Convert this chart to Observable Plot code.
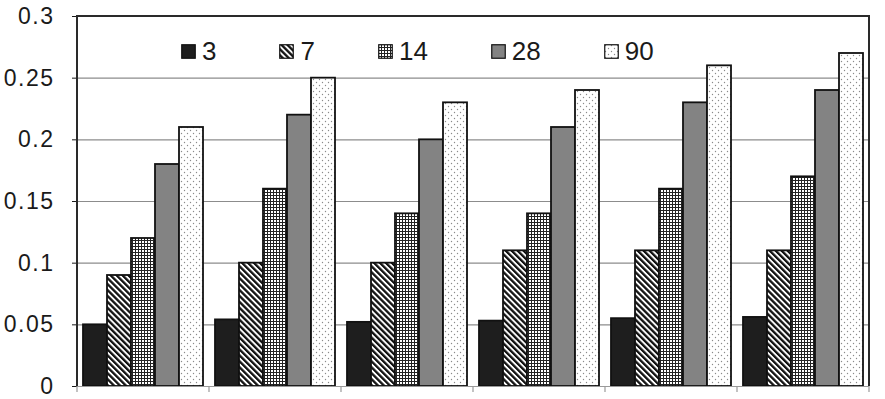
<!DOCTYPE html>
<html>
<head>
<meta charset="utf-8">
<script src="https://cdn.jsdelivr.net/npm/d3@7"></script>
<script src="https://cdn.jsdelivr.net/npm/@observablehq/plot@0.6"></script>
<style>
  html, body { margin: 0; padding: 0; background: #fff; }
  #wrap { position: relative; width: 885px; height: 399px; font-family: "Liberation Sans", Arial, sans-serif; }
  #legend { position: absolute; left: 181px; top: 38px; display: flex; gap: 63px; align-items: center; color: #1a1a1a; font-size: 26px; }
  #legend .item { display: flex; align-items: center; gap: 6px; }
  #legend svg { display: block; }
  #legend span { line-height: 1; }
  g[aria-label="y-axis tick"] { stroke: #9a9a9a; }
  g[aria-label="y-axis tick label"] { letter-spacing: 1.5px; }
</style>
</head>
<body>
<svg width="0" height="0" style="position:absolute">
  <defs>
    <pattern id="p7" patternUnits="userSpaceOnUse" width="4.2" height="4.2" patternTransform="rotate(-45)">
      <rect width="4.2" height="4.2" fill="#fff"></rect>
      <rect width="2.3" height="4.2" fill="#111"></rect>
    </pattern>
    <pattern id="p14" patternUnits="userSpaceOnUse" width="3" height="3">
      <rect width="3" height="3" fill="#fff"></rect>
      <rect width="1" height="3" fill="#222"></rect>
      <rect width="3" height="1" fill="#222"></rect>
    </pattern>
    <pattern id="p90" patternUnits="userSpaceOnUse" width="6" height="6">
      <rect width="6" height="6" fill="#fff"></rect>
      <circle cx="1.5" cy="1.5" r="0.7" fill="#8a8a8a"></circle>
      <circle cx="4.5" cy="4.5" r="0.7" fill="#8a8a8a"></circle>
    </pattern>
  </defs>
</svg>
<div id="wrap">
  <div id="chart"></div>
  <div id="legend"></div>
</div>
<script>
// ---- data ----
const groups = ["1", "2", "3", "4", "5", "6"];
const series = ["3", "7", "14", "28", "90"];
const values3  = [0.050, 0.054, 0.052, 0.053, 0.055, 0.056];
const values7  = [0.090, 0.100, 0.100, 0.110, 0.110, 0.110];
const values14 = [0.120, 0.160, 0.140, 0.140, 0.160, 0.170];
const values28 = [0.180, 0.220, 0.200, 0.210, 0.230, 0.240];
const values90 = [0.210, 0.250, 0.230, 0.240, 0.260, 0.270];
const yTicks = [0, 0.05, 0.1, 0.15, 0.2, 0.25, 0.3];
const fills = ["#1e1e1e", "url(#p7)", "url(#p14)", "#838383", "url(#p90)"];

const seriesValues = [values3, values7, values14, values28, values90];
const data = groups.flatMap((g, i) =>
  series.map((s, j) => ({group: g, series: s, value: seriesValues[j][i]}))
);

const plot = Plot.plot({
  width: 885,
  height: 399,
  marginLeft: 77,
  marginRight: 16,
  marginTop: 16,
  marginBottom: 13,
  style: {fontFamily: "'Liberation Sans', Arial, sans-serif", fontSize: "23px", color: "#1a1a1a", background: "#fff"},
  fx: {domain: groups, padding: 0, axis: null, label: null},
  x: {domain: series, paddingInner: 0, paddingOuter: 0.2, axis: null, label: null},
  y: {domain: [0, 0.3], ticks: yTicks, tickFormat: d3.format("~g"), tickSize: 5, tickPadding: 18, label: null},
  color: {type: "ordinal", domain: series, range: fills},
  marks: [
    Plot.gridY(yTicks, {stroke: "#8c8c8c", strokeOpacity: 1, strokeWidth: 1.2}),
    Plot.barY(data, {fx: "group", x: "series", y: "value", fill: "series", stroke: "#111", strokeWidth: 1.8}),
    Plot.ruleY([0], {stroke: "#9a9a9a", strokeWidth: 1.2})
  ]
});
document.getElementById("chart").appendChild(plot);

// frame and group-boundary ticks, from the plot's own scales
const fx = plot.scale("fx");
const ys = plot.scale("y");
const [x0, x1] = fx.range;
const yBottom = ys.apply(0), yTop = ys.apply(0.3);
const svg = d3.select(plot);
const g = svg.append("g");
g.append("path")
  .attr("d", `M${x0},${yBottom}V${yTop}H${x1}V${yBottom}`)
  .attr("fill", "none").attr("stroke", "#2a2a2a").attr("stroke-width", 2);
const bounds = groups.map(d => fx.apply(d)).concat([x1]);
g.selectAll("line.b").data(bounds).join("line")
  .attr("x1", d => d).attr("x2", d => d)
  .attr("y1", yBottom).attr("y2", yBottom + 6)
  .attr("stroke", "#9a9a9a").attr("stroke-width", 1.2);

// legend
const legend = d3.select("#legend");
series.forEach((s, j) => {
  const item = legend.append("div").attr("class", "item");
  const sw = item.append("svg").attr("width", 15).attr("height", 15);
  sw.append("rect").attr("x", 0.75).attr("y", 0.75).attr("width", 13.5).attr("height", 13.5)
    .attr("fill", fills[j]).attr("stroke", "#111").attr("stroke-width", 1.2);
  item.append("span").text(s);
});
</script>
</body>
</html>
